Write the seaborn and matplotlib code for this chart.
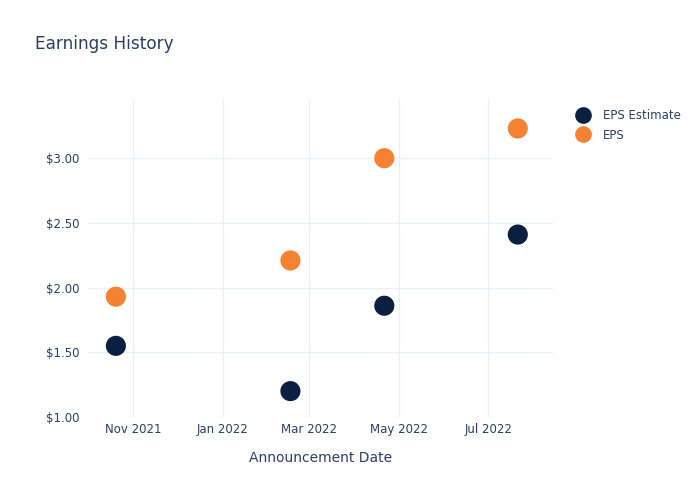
import matplotlib
matplotlib.use("Agg")
import matplotlib.pyplot as plt
import matplotlib.dates as mdates
import seaborn as sns
import pandas as pd
import numpy as np

dates = ["2021-10-20", "2022-02-16", "2022-04-21", "2022-07-21"]
eps_estimate = [1.55, 1.20, 1.86, 2.41]
eps_actual = [1.93, 2.21, 3.00, 3.23]
series_names = ["EPS Estimate", "EPS"]
colors = ["#0b1f41", "#f58132"]
y_ticks = [1.0, 1.5, 2.0, 2.5, 3.0]
x_ticks = ["2021-11-01", "2022-01-01", "2022-03-01", "2022-05-01", "2022-07-01"]

df = pd.DataFrame({
    "date": pd.to_datetime(dates * 2),
    "value": eps_estimate + eps_actual,
    "series": [series_names[0]] * len(dates) + [series_names[1]] * len(dates),
})

sns.set_theme(style="white")
plt.rcParams["font.family"] = ["DejaVu Sans"]
text_color = "#2a3f5f"
grid_color = "#ebf0f8"

fig = plt.figure(figsize=(7, 5), dpi=100)
ax = fig.add_axes([88 / 700, 83 / 500, (553 - 88) / 700, (417 - 100) / 500])

sns.scatterplot(data=df, x="date", y="value", hue="series", hue_order=series_names,
                palette=colors, s=210, linewidth=0, ax=ax, legend=True, zorder=3)

ax.set_xlim(pd.Timestamp("2021-10-01"), pd.Timestamp("2022-08-14"))
ax.set_ylim(1.0, 3.45)
ax.set_yticks(y_ticks)
ax.set_yticklabels([f"${v:.2f}" for v in y_ticks])
ax.set_xticks(pd.to_datetime(x_ticks))
ax.xaxis.set_major_formatter(mdates.DateFormatter("%b %Y"))
ax.grid(True, color=grid_color, linewidth=1)
ax.set_axisbelow(True)
for s in ax.spines.values():
    s.set_visible(False)
ax.tick_params(axis="both", length=0, labelsize=8.5, colors=text_color, pad=6)
ax.tick_params(axis="x", pad=4)
ax.set_xlabel("Announcement Date", fontsize=10, color=text_color, labelpad=11)
ax.set_ylabel("")

leg = ax.legend(loc="upper left", bbox_to_anchor=(1.016, 1.005), frameon=False,
                fontsize=8.5, labelcolor=text_color, handletextpad=0.7,
                labelspacing=0.55)
for h in leg.legend_handles:
    if hasattr(h, "set_markersize"):
        h.set_markersize(12)
        h.set_markeredgewidth(0)
    elif hasattr(h, "set_sizes"):
        h.set_sizes([150])

fig.text(35 / 700, 1 - 44 / 500, "Earnings History", fontsize=12.2, color=text_color,
         va="center", ha="left")

fig.savefig("out.png", dpi=100, facecolor="white")
